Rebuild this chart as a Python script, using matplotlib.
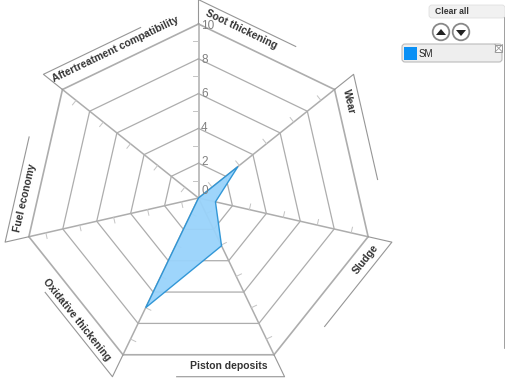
import numpy as np
import matplotlib
matplotlib.use('Agg')
import matplotlib.pyplot as plt
from matplotlib.patches import Rectangle, Circle, FancyBboxPatch, Polygon

plt.rcParams['font.family'] = ['Liberation Sans', 'DejaVu Sans']

categories = ['Soot thickening', 'Wear', 'Sludge', 'Piston deposits',
              'Oxidative thickening', 'Fuel economy', 'Aftertreatment compatibility']
sm_values = [0, 2.9, 1.0, 3.05, 7.0, 0, 0]
grid_levels = [2, 4, 6, 8, 10]
minor_levels = [1, 3, 5, 7, 9]
legend_name = 'SM'

# where things sit on the 506x379 picture, in pixels
WIDTH, HEIGHT = 506, 379
CX, CY = 198.5, 198
UNIT = 17.4
OUTER = 11.4
LABEL_LEN = 6.2
label_xy = [(241, 29), (349, 102), (366, 259), (229, 366), (77, 320), (25, 198), (116, 49)]
label_rot = [-25.7, -77, 51.4, 0, -51.4, 77, 25.7]

GRID = '#adadad'
TEXT = '#333333'


def to_xy(r, i):
    angle = 2 * np.pi * i / len(categories)
    return r * np.sin(angle), r * np.cos(angle)


fig = plt.figure(figsize=(WIDTH / 100, HEIGHT / 100), dpi=100)
ax = fig.add_axes([0, 0, 1, 1])
ax.set_xlim(-CX / UNIT, (WIDTH - CX) / UNIT)
ax.set_ylim((CY - HEIGHT) / UNIT, CY / UNIT)
ax.axis('off')

n = len(categories)

# web
for level in grid_levels:
    pts = [to_xy(level, i) for i in range(n)]
    pts.append(pts[0])
    xs, ys = zip(*pts)
    lw = 1.2 if level == 10 else 0.9
    ax.plot(xs, ys, color=GRID, lw=lw, zorder=1)
    ax.text(0.15, level * 0.98 + 0.1, str(level), color='#808080', fontsize=8.5,
            ha='left', va='center', zorder=4)
ax.text(0.35, 0.42, '0', color='#808080', fontsize=8.5, ha='center', va='center', zorder=4)

# spokes with their small ticks
for i in range(n):
    x, y = to_xy(10, i)
    ax.plot([0, x], [0, y], color=GRID, lw=1.1, zorder=1)
    ux, uy = x / 10, y / 10
    for level in minor_levels:
        mx, my = ux * level, uy * level
        ax.plot([mx, mx - uy * 0.33], [my, my + ux * 0.33], color='#c4c4c4', lw=0.7, zorder=1)

# label frames outside the web
for i in range(n):
    x0, y0 = to_xy(10, i)
    x1, y1 = to_xy(OUTER, i)
    nx, ny = to_xy(OUTER, i + 1)
    d = np.hypot(nx - x1, ny - y1)
    ex = x1 + (nx - x1) / d * LABEL_LEN
    ey = y1 + (ny - y1) / d * LABEL_LEN
    ax.plot([x0, x1, ex], [y0, y1, ey], color='#969696', lw=0.8, zorder=1)

# the series
poly = [to_xy(v, i) for i, v in enumerate(sm_values)]
ax.add_patch(Polygon(poly, closed=True, facecolor='#99d3fb', edgecolor='#2a93d5',
                     lw=1.0, alpha=0.95, zorder=3))

# pixel overlay for the labels and the side panel
px = fig.add_axes([0, 0, 1, 1])
px.set_xlim(0, WIDTH)
px.set_ylim(HEIGHT, 0)
px.axis('off')
px.patch.set_alpha(0)

for name, (x, y), rot in zip(categories, label_xy, label_rot):
    px.text(x, y, name, fontsize=7.5, fontweight='bold', color=TEXT,
            rotation=rot, rotation_mode='anchor', ha='center', va='center')

# side panel
px.plot([505.3, 505.3], [18, 348], color='#8f8f8f', lw=1.2)
px.add_patch(FancyBboxPatch((429, 5), 76, 13, boxstyle='round,pad=0,rounding_size=3',
                            facecolor='#f1f1f1', edgecolor='#e0e0e0', lw=0.6))
px.text(435, 11.5, 'Clear all', fontsize=6.2, fontweight='bold', color=TEXT, ha='left', va='center')

for cx, pts in [(441, [(436, 35), (446, 35), (441, 29)]), (461, [(456, 30), (466, 30), (461, 36)])]:
    px.add_patch(Circle((cx, 32), 8.3, facecolor='white', edgecolor='#888888', lw=1.3))
    px.add_patch(Polygon(pts, closed=True, facecolor='#222222', edgecolor='none'))

px.add_patch(FancyBboxPatch((402, 44), 100, 18, boxstyle='round,pad=0,rounding_size=3',
                            facecolor='#eeeeee', edgecolor='#bbbbbb', lw=0.8))
px.add_patch(Rectangle((404, 47), 13, 12.5, facecolor='#0a90f5', edgecolor='none'))
px.text(418.5, 54, legend_name, fontsize=7, color='#222222', ha='left', va='center')
px.add_patch(Rectangle((495, 44.5), 7.5, 7.5, facecolor='white', edgecolor='#999999', lw=0.7))
px.plot([495, 502.5], [44.5, 52], color='#999999', lw=0.6)
px.plot([495, 502.5], [52, 44.5], color='#999999', lw=0.6)

fig.savefig('out.png', dpi=100, facecolor='white')
